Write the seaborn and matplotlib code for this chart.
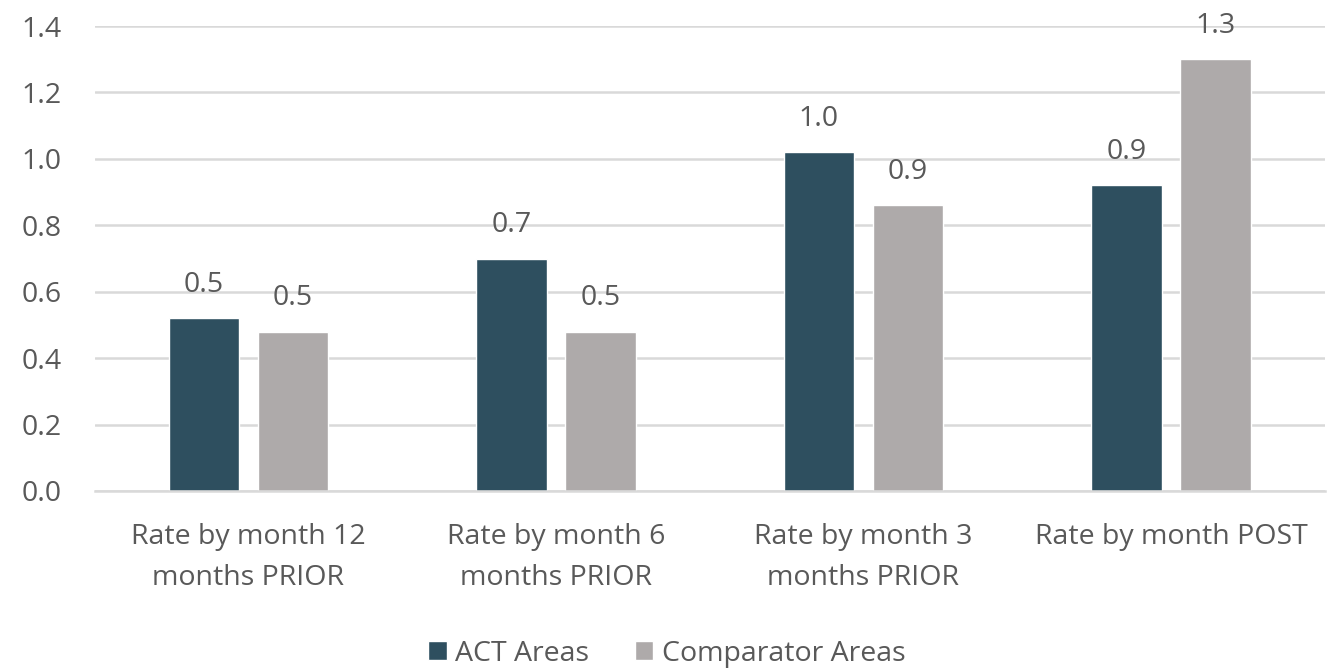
import matplotlib
matplotlib.use("Agg")
import matplotlib.pyplot as plt
import seaborn as sns
import pandas as pd

categories = ["Rate by month 12\nmonths PRIOR", "Rate by month 6\nmonths PRIOR",
              "Rate by month 3\nmonths PRIOR", "Rate by month POST"]
series_names = ["ACT Areas", "Comparator Areas"]
act_values = [0.52, 0.70, 1.02, 0.92]
comp_values = [0.48, 0.48, 0.86, 1.30]
yticks = [0.0, 0.2, 0.4, 0.6, 0.8, 1.0, 1.2, 1.4]

df = pd.DataFrame({
    "category": categories * 2,
    "series": [series_names[0]] * 4 + [series_names[1]] * 4,
    "value": act_values + comp_values,
})

sns.set_theme(style="white")
plt.rcParams['font.family'] = ['Open Sans', 'DejaVu Sans']
text_color = "#595959"
fs = 20.5

fig = plt.figure(figsize=(13.34, 6.68), dpi=100)
ax = fig.add_axes([0.071, 0.265, 0.922, 0.696])

palette = {"ACT Areas": "#2E4F5F", "Comparator Areas": "#AEAAAA"}
sns.barplot(data=df, x="category", y="value", hue="series", palette=palette,
            width=0.58, gap=0.21, ax=ax, saturation=1, legend=True)

for cont in ax.containers:
    ax.bar_label(cont, fmt="%.1f", padding=14, fontsize=fs, color=text_color)

ax.set_ylim(0, 1.4)
ax.set_xlim(-0.5, 3.5)
ax.set_yticks(yticks)
ax.set_yticklabels([f"{t:.1f}" for t in yticks])
ax.yaxis.grid(True, color="#D9D9D9", linewidth=1.8)
ax.set_axisbelow(True)
for s in ["top", "right", "left"]:
    ax.spines[s].set_visible(False)
ax.spines["bottom"].set_color("#D9D9D9")
ax.spines["bottom"].set_linewidth(1.8)
ax.tick_params(axis="both", length=0, labelsize=fs, labelcolor=text_color)
ax.tick_params(axis="x", pad=23)
ax.tick_params(axis="y", pad=24)
for lbl in ax.get_xticklabels():
    lbl.set_linespacing(1.62)
ax.set_xlabel("")
ax.set_ylabel("")

handles, labels = ax.get_legend_handles_labels()
ax.legend_.remove()
fig.legend(handles, labels, loc="center", bbox_to_anchor=(0.5, 0.021), ncol=2,
           frameon=False, fontsize=fs, labelcolor=text_color,
           handlelength=0.65, handleheight=0.65, handletextpad=0.3, columnspacing=1.6)

fig.savefig("out.png", dpi=100)
